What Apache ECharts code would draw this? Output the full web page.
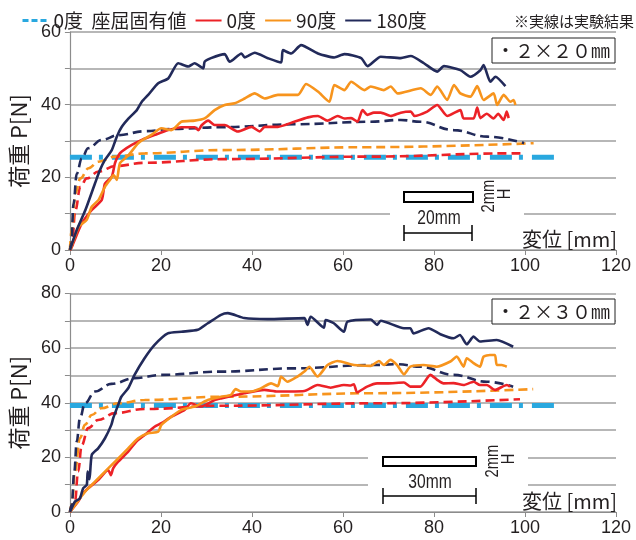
<!DOCTYPE html>
<html>
<head>
<meta charset="utf-8">
<script src="https://cdn.jsdelivr.net/npm/echarts@6/dist/echarts.min.js"></script>
<style>
  html, body { margin: 0; padding: 0; background: #fff; }
  #chart { width: 636px; height: 540px; }
</style>
</head>
<body>
<div id="chart"></div>
<script>
// 上段 2×20mm
const top_buckle = [[0, 25.5], [107.3, 25.5]]
const top_0_theory = [[0, 0], [0.4, 0.9], [1.2, 11], [2.3, 17.4], [3.7, 19.7], [6.3, 21.6], [9.9, 23.1], [16.5, 24], [33.2, 25], [66.1, 25.7], [96.8, 26.6], [99, 26.6]]
const top_90_theory = [[0, 0], [0.4, 5.5], [1.2, 15.6], [2.3, 19.7], [4.1, 22.5], [6.3, 24.3], [9.9, 25.7], [16.5, 26.6], [33.2, 27.5], [66.1, 28.3], [101.9, 29.4]]
const top_180_theory = [[0, 0], [0.3, 1.8], [0.8, 12.8], [1.5, 21], [2.6, 25.2], [4, 28], [7, 30.3], [10.6, 31.6], [16.5, 32.7], [22.3, 33.3], [33.2, 33.8], [49.3, 34.6], [66.1, 35.3], [72.7, 35.8], [77, 35.3], [84.3, 33], [91.7, 31.2], [99.8, 29.4]]
const top_0_exp = [[0, 0], [0.3, 0.5], [2.6, 7.3], [4.8, 11], [7, 13.8], [7.7, 18.3], [9.2, 20.2], [9.9, 23.9], [10.7, 26.1], [11.4, 27.1], [13.6, 28.9], [15.8, 30.3], [18.7, 31.7], [21.6, 33], [24.5, 33.8], [27.4, 33.8], [28.2, 33], [29, 34.4], [30.4, 35.6], [31.8, 34.4], [34, 34.4], [36.9, 32.6], [39.9, 33.9], [41.7, 32.6], [42.8, 33.9], [45.7, 33.9], [49.3, 35.3], [52.3, 36.5], [54.5, 36.9], [56.6, 35.6], [58.8, 36.9], [60.3, 36.2], [61.8, 36.3], [63.2, 35.3], [64.3, 38.5], [65.4, 37.2], [66.8, 37.8], [68.3, 37.8], [70.5, 36.9], [72.7, 37.8], [74.9, 38.1], [75.7, 36.9], [78.5, 38.1], [80.7, 39.9], [82.9, 36.9], [85.8, 38.5], [86.5, 36.2], [88.7, 36.2], [89.5, 39.2], [90.2, 36.3], [91.6, 37.5], [93.1, 36.2], [94.1, 37.5], [95.3, 35.8], [96, 38.1], [96.4, 36.3]]
const top_90_exp = [[0, 0], [0.3, 0.9], [1.9, 6.4], [3.7, 8.3], [4.8, 11.9], [6.3, 13.8], [7.7, 17.4], [8.8, 19.3], [9.6, 20.6], [10.3, 19.3], [11, 23.9], [12.9, 26.1], [15, 29.4], [17.9, 31.7], [20.1, 33.5], [22.3, 33], [24.5, 35.3], [27.4, 35.6], [29.6, 36.2], [31.8, 38.5], [34, 39.9], [36.2, 40.4], [38.4, 41.7], [40.6, 43.1], [42.8, 41.7], [45.7, 42.7], [50.1, 42.7], [51.9, 45.7], [54.5, 43.6], [57, 40.8], [58.1, 45.4], [60.3, 44], [61.8, 46.3], [64.7, 44], [66.1, 45], [69, 44], [70.5, 45], [72, 43.1], [77.1, 44.5], [79.3, 42.7], [80.7, 45], [82.9, 41.3], [84.4, 45.4], [85.8, 43.1], [88, 42.2], [89.5, 45.1], [90.9, 41.3], [93.1, 43.1], [93.9, 39.9], [95.3, 42.7], [96.8, 40.8], [97.5, 41.3], [97.9, 39.9]]
const top_180_exp = [[0, 0], [1.5, 5.5], [3.4, 11], [5.5, 18.3], [6.6, 22], [7.7, 24.8], [9.2, 27.5], [10.3, 31.2], [11.4, 33.9], [12.9, 36.2], [14.7, 38.5], [15.8, 40.8], [17.2, 42.7], [19.4, 45.9], [21.6, 47.2], [23.8, 51.4], [26, 50.5], [27.4, 51.4], [29.3, 50], [29.6, 51.8], [31, 52.8], [34, 53.9], [35.1, 51.8], [37.7, 54.1], [38.4, 53], [40.6, 54.3], [43.5, 52.8], [46.4, 51.6], [46.8, 55], [48.6, 54.1], [50.8, 56.4], [54.5, 54.1], [58.1, 53], [60.3, 53.9], [64, 52.8], [65.4, 50.6], [68.3, 53.2], [72.7, 52.8], [74.9, 53.4], [77.8, 51.4], [80.7, 49.1], [82.2, 50.6], [85.8, 49.5], [88, 47.7], [90.2, 49.5], [90.9, 50.9], [92.4, 46.3], [93.5, 47.7], [95.7, 45.1]]

// 下段 2×30mm
const bot_buckle = [[0, 39], [107.3, 39]]
const bot_0_theory = [[0, 0], [1.1, 3.8], [1.8, 14.8], [2.6, 24.5], [4, 30.7], [6.2, 33.7], [9.9, 36.2], [16.4, 37.7], [33.2, 38.9], [67.5, 39.8], [98.9, 41.3]]
const bot_90_theory = [[0, 0], [0.4, 2.6], [1.1, 14.8], [2.2, 27], [3.3, 31.9], [4.8, 35.5], [6.9, 38], [10.6, 39.8], [16.4, 41], [33.2, 42.2], [67.5, 43.5], [101.8, 45]]
const bot_180_theory = [[0, 0], [0.4, 2.6], [0.96, 14.8], [1.5, 25.8], [2.2, 34.3], [3.3, 39.8], [5.5, 44.1], [9.1, 46.9], [14.2, 49], [20.1, 50.2], [33.2, 51.4], [49.3, 52.6], [66.1, 53.8], [71.9, 54.1], [77, 53.2], [84.3, 50.2], [91.6, 47.7], [97.4, 45.9]]
const bot_0_exp = [[0, 0], [1.8, 3.8], [2.6, 6.2], [4, 8.7], [6.2, 11.7], [8.4, 15.4], [9, 13.5], [9.5, 16], [10.6, 18.4], [12.8, 22.1], [14.6, 25.8], [16.4, 28.2], [18.6, 31.2], [20.1, 32.5], [22.3, 34.9], [25.2, 37.4], [26.6, 39.8], [28.8, 38.6], [31.8, 41], [33.2, 41.6], [38.3, 43.5], [42.7, 44.7], [45.6, 44.1], [51.5, 44.3], [54.4, 46.5], [57.3, 45.5], [60.2, 46.5], [61.7, 46.3], [62.4, 46.8], [63.1, 43.8], [65.3, 45.9], [67.5, 47.1], [69.7, 47.1], [73.4, 47.4], [74.8, 45.9], [77, 45.9], [79.2, 50.2], [80.7, 48.4], [82.1, 47.1], [84.3, 47.2], [86.5, 46.5], [88.7, 47.7], [90.1, 46.5], [91.6, 46.5], [93.4, 44.7], [96, 46.5], [96.7, 45.9]]
const bot_90_exp = [[0, 0], [2.2, 5], [3.3, 7.4], [5.5, 11.1], [7.7, 14.8], [9.9, 18.4], [12.8, 23.3], [15, 27], [17.2, 28.8], [19.4, 29.4], [20.1, 31.9], [22.3, 34.9], [24.5, 37.4], [27.4, 38.6], [30.3, 41], [33.2, 42.2], [35.4, 42.9], [36.4, 45], [37.6, 44.1], [39.8, 44.1], [42, 45.3], [44.2, 47.1], [45.7, 46.1], [46.4, 49.6], [47.8, 47.7], [50, 49.6], [51.5, 51.4], [52.6, 53.2], [54.4, 49.6], [56.6, 53.8], [58.8, 55.3], [62.4, 53.8], [66.1, 53.5], [67.9, 55.3], [69, 53.8], [70.4, 55.7], [71.9, 53.8], [73.4, 50.4], [74.8, 53.2], [77.7, 53.8], [80.6, 53.2], [83.6, 55.1], [85, 56.9], [86.5, 53.2], [87.2, 56.3], [88.7, 54.5], [90.1, 53.2], [90.9, 56.9], [92.3, 57.5], [93.4, 57.5], [93.8, 53.8], [94.9, 53.8], [96, 53.2]]
const bot_180_exp = [[0, 0], [1.1, 3.8], [2.2, 5], [2.9, 8.7], [3.7, 9.9], [3.9, 14.8], [4.3, 12], [4.8, 20.9], [6.2, 23.3], [7.7, 27], [9.1, 31.9], [9.5, 34.3], [10.6, 39.2], [11.3, 42.2], [12.8, 45.3], [14.2, 50.2], [16.4, 56.3], [18.6, 61.2], [21.5, 65.4], [24.5, 66], [28.1, 66.7], [30.3, 69.1], [33.2, 72.2], [34.7, 72.8], [38.3, 71], [43.4, 70.6], [51.5, 71], [52.2, 68.5], [52.9, 71.5], [55.8, 67.5], [56.2, 70.3], [58, 69.1], [60.2, 66], [61, 69.7], [66.1, 70.5], [67.5, 68.5], [68.3, 70], [73.4, 67.3], [74.8, 67.3], [75.5, 65.4], [78.8, 67.3], [81.4, 65.1], [84.3, 63.6], [85.7, 64.8], [87.2, 61.4], [88.7, 64.2], [90.1, 62.4], [93.8, 63], [97.4, 60.5]]

const xTicks = [0, 20, 40, 60, 80, 100, 120]
const yTicksTop = [0, 20, 40, 60]
const yTicksBot = [0, 20, 40, 60, 80]
const legendNames = ['0度  座屈固有値', '0度', '90度', '180度']

const BLUE = '#29a8df'
const RED = '#ec2227'
const ORANGE = '#f7941d'
const NAVY = '#222a5a'
const GRIDC = '#9f9f9f'
const TXT = '#231f20'
const NUMFONT = '"Liberation Sans", Arial, sans-serif'
const JPFONT = '"Noto Sans CJK JP", sans-serif'

const chart = echarts.init(document.getElementById('chart'))

function xAxisOpt(idx) {
  return {
    type: 'value', gridIndex: idx, min: 0, max: 120, interval: 20,
    axisLine: { show: true, lineStyle: { color: '#8c8c8c', width: 1.2 } },
    axisTick: { show: true, length: 5, lineStyle: { color: '#8c8c8c' } },
    axisLabel: {
      margin: 7, fontSize: 18, color: TXT, fontFamily: NUMFONT,
      formatter: v => xTicks.indexOf(v) >= 0 ? String(v) : ''
    },
    splitLine: { show: false }
  }
}

function yAxisOpt(idx, max, ticks) {
  return {
    type: 'value', gridIndex: idx, min: 0, max: max, interval: 10,
    name: '荷重 P[N]', nameLocation: 'middle', nameGap: 38, nameRotate: 90,
    nameTextStyle: { fontSize: 22, color: TXT, fontFamily: JPFONT },
    axisLine: { show: true, lineStyle: { color: '#8c8c8c', width: 1.2 } },
    axisTick: { show: true, length: 5, lineStyle: { color: '#8c8c8c' } },
    axisLabel: {
      margin: 9, fontSize: 18, color: TXT, fontFamily: NUMFONT,
      formatter: v => ticks.indexOf(v) >= 0 ? String(v) : ''
    },
    splitLine: { show: true, lineStyle: { color: GRIDC, width: 1.5 } }
  }
}

function buckle(idx, data) {
  return {
    name: legendNames[0], type: 'line', xAxisIndex: idx, yAxisIndex: idx, data: data,
    symbol: 'none', z: 2,
    lineStyle: { color: BLUE, width: 5, type: [22, 7, 4, 9], cap: 'butt' },
    itemStyle: { color: BLUE }
  }
}

function theory(idx, data, color) {
  return {
    name: 'theory', type: 'line', xAxisIndex: idx, yAxisIndex: idx, data: data,
    symbol: 'none', smooth: 0.4, smoothMonotone: 'x', z: 3,
    lineStyle: { color: color, width: 2.6, type: [9, 5] },
    itemStyle: { color: color }
  }
}

function exp(idx, data, color, name) {
  return {
    name: name, type: 'line', xAxisIndex: idx, yAxisIndex: idx, data: data,
    symbol: 'none', smooth: 0.2, z: 4,
    lineStyle: { color: color, width: 2.6 },
    itemStyle: { color: color }
  }
}

// condensed looking text (the original uses a narrow face)
function narrowText(x, y, text, size, rot) {
  return {
    type: 'text', z: 5, x: x, y: y, rotation: rot || 0, scaleX: 0.78,
    style: { text: text, fontSize: size, fontFamily: NUMFONT, fill: TXT, align: 'center', verticalAlign: 'middle' }
  }
}

function annotate(y0, dims, len) {
  // 試験片の寸法図 (white patch hides the grid lines behind it)
  return [
    { type: 'rect', z: 1, shape: dims.patch, style: { fill: '#fff' } },
    { type: 'rect', z: 5, shape: dims.rect, style: { fill: '#fff', stroke: '#000', lineWidth: 2 } },
    narrowText(dims.label[0], dims.label[1], len, 20),
    { type: 'line', z: 5, shape: { x1: dims.bar[0], y1: dims.bar[2], x2: dims.bar[1], y2: dims.bar[2] }, style: { stroke: '#000', lineWidth: 1.5 } },
    { type: 'line', z: 5, shape: { x1: dims.bar[0], y1: dims.bar[2] - 8, x2: dims.bar[0], y2: dims.bar[2] + 8 }, style: { stroke: '#000', lineWidth: 1.5 } },
    { type: 'line', z: 5, shape: { x1: dims.bar[1], y1: dims.bar[2] - 8, x2: dims.bar[1], y2: dims.bar[2] + 8 }, style: { stroke: '#000', lineWidth: 1.5 } },
    narrowText(dims.thick[0], dims.thick[1], '2mm', 19, Math.PI / 2),
    narrowText(dims.thick[0] + 16, dims.thick[1] - 2, 'H', 19, Math.PI / 2),
    { type: 'text', z: 5, x: 617, y: y0,
      style: { text: '変位 [mm]', fontSize: 20, fontFamily: JPFONT, fill: TXT, align: 'right', verticalAlign: 'middle' } }
  ]
}

function sizeBox(y, label) {
  return [
    { type: 'rect', z: 5, shape: { x: 492, y: y, width: 123, height: 25 }, style: { fill: '#fff', stroke: '#222', lineWidth: 1 } },
    { type: 'text', z: 6, x: 553, y: y + 13,
      style: { text: label, fontSize: 19, fontFamily: JPFONT, fill: TXT, align: 'center', verticalAlign: 'middle' } }
  ]
}

chart.setOption({
  animation: false,
  backgroundColor: '#fff',
  legend: {
    left: 16, top: 6, itemWidth: 26, itemHeight: 12, itemGap: 8,
    itemStyle: { opacity: 0 },
    textStyle: { fontSize: 19, color: TXT, fontFamily: JPFONT },
    data: [
      { name: legendNames[0], lineStyle: { type: [6, 3], width: 3 } },
      legendNames[1], legendNames[2], legendNames[3]
    ]
  },
  grid: [
    { left: 68, right: 20, top: 32, height: 218 },
    { left: 68, right: 20, top: 293.5, height: 218.5 }
  ],
  xAxis: [xAxisOpt(0), xAxisOpt(1)],
  yAxis: [yAxisOpt(0, 60, yTicksTop), yAxisOpt(1, 80, yTicksBot)],
  series: [
    buckle(0, top_buckle),
    theory(0, top_0_theory, RED),
    theory(0, top_90_theory, ORANGE),
    theory(0, top_180_theory, NAVY),
    exp(0, top_0_exp, RED, legendNames[1]),
    exp(0, top_90_exp, ORANGE, legendNames[2]),
    exp(0, top_180_exp, NAVY, legendNames[3]),
    buckle(1, bot_buckle),
    theory(1, bot_0_theory, RED),
    theory(1, bot_90_theory, ORANGE),
    theory(1, bot_180_theory, NAVY),
    exp(1, bot_0_exp, RED, legendNames[1]),
    exp(1, bot_90_exp, ORANGE, legendNames[2]),
    exp(1, bot_180_exp, NAVY, legendNames[3])
  ],
  graphic: [].concat(
    [{ type: 'text', z: 5, x: 634, y: 21,
       style: { text: '※実線は実験結果', fontSize: 15, fontFamily: JPFONT, fill: TXT, align: 'right', verticalAlign: 'middle' } }],
    sizeBox(38, '・２×２０㎜'),
    sizeBox(299, '・２×３０㎜'),
    annotate(239, {
      patch: { x: 390, y: 185, width: 134, height: 60 },
      rect: { x: 404, y: 192, width: 69, height: 10 },
      label: [439, 218],
      bar: [404, 472, 233],
      thick: [489, 196]
    }, '20mm'),
    annotate(501, {
      patch: { x: 368, y: 440, width: 160, height: 68 },
      rect: { x: 383, y: 457, width: 93, height: 9 },
      label: [430, 482],
      bar: [383, 476, 496],
      thick: [493, 461]
    }, '30mm')
  )
})
</script>
</body>
</html>
